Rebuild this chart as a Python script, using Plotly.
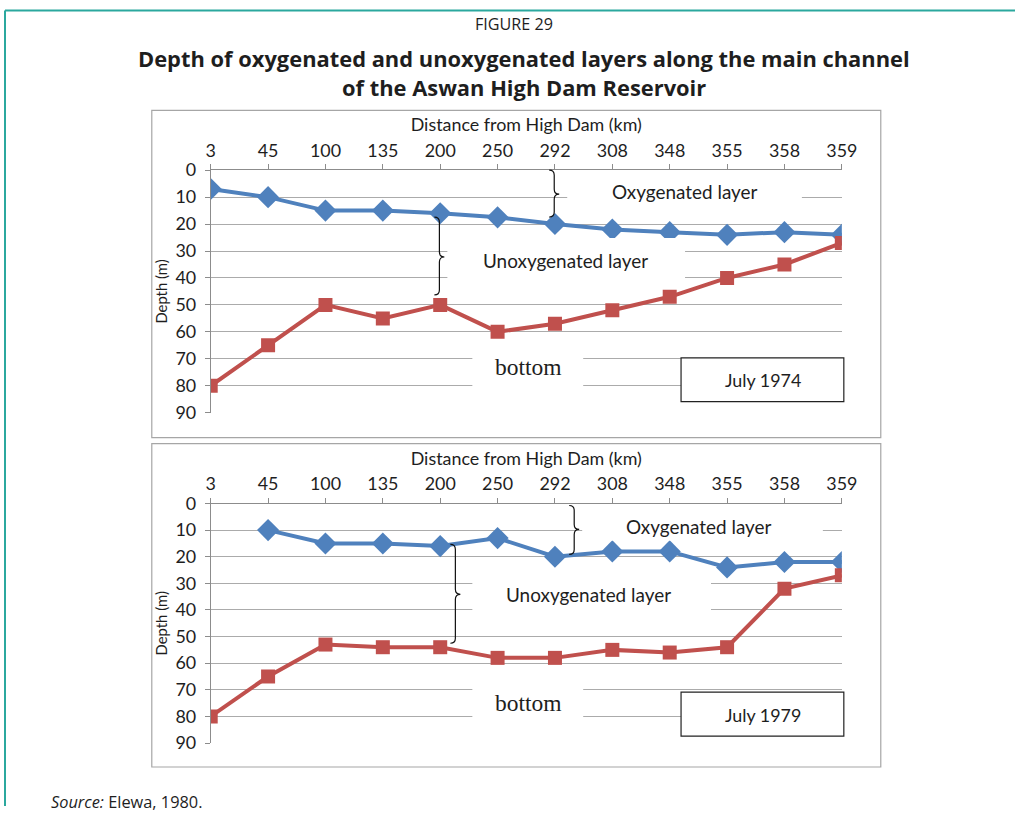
import plotly.graph_objects as go

# ---------------- data ----------------
distance_km = ["3", "45", "100", "135", "200", "250", "292", "308", "348", "355", "358", "359"]
oxygenated_1974 = [7, 10, 15, 15, 16, 17.5, 20, 22, 23, 24, 23, 24]
bottom_1974 = [80, 65, 50, 55, 50, 60, 57, 52, 47, 40, 35, 27]
oxygenated_1979 = [None, 10, 15, 15, 16, 13, 20, 18, 18, 24, 22, 22]
bottom_1979 = [80, 65, 53, 54, 54, 58, 58, 55, 56, 54, 32, 27]
depth_ticks = [0, 10, 20, 30, 40, 50, 60, 70, 80, 90]

# ---------------- layout helpers ----------------
W, H = 1031, 816
# the page is photographed slightly scaled/offset; compensate so that
# positions given in reference pixels land where intended
AX, BX = 0.981, 5.0
AY, BY = 0.975, 9.5
FS = 1 / 0.978


def px(x):
    return ((x - BX) / AX) / W


def py(y):
    return 1 - ((y - BY) / AY) / H


def fs(s):
    return s * FS


BLUE = "#4F81BD"
RED = "#C0504D"
GRID = "#ababab"
AXIS = "#8c8c8c"
TXT = "#1e1e1e"
FONT = "Lato"

fig = go.Figure()

panels = [
    dict(xa="x", ya="y", ox=oxygenated_1974, bot=bottom_1974, box=(108, 436)),
    dict(xa="x2", ya="y2", ox=oxygenated_1979, bot=bottom_1979, box=(442, 766)),
]

for p in panels:
    fig.add_trace(go.Scatter(
        x=distance_km, y=p["ox"], xaxis=p["xa"], yaxis=p["ya"], mode="lines+markers",
        line=dict(color=BLUE, width=4), marker=dict(symbol="diamond", size=17, color=BLUE),
        showlegend=False, connectgaps=False))
    fig.add_trace(go.Scatter(
        x=distance_km, y=p["bot"], xaxis=p["xa"], yaxis=p["ya"], mode="lines+markers",
        line=dict(color=RED, width=4), marker=dict(symbol="square", size=14, color=RED),
        showlegend=False, connectgaps=False))

xdom = [px(211), px(843)]
axis_common_x = dict(
    type="category", range=[0, len(distance_km) - 1], side="top", showline=True, linecolor=AXIS,
    linewidth=1, ticks="outside", ticklen=5, tickcolor=AXIS, showgrid=False, zeroline=False,
    tickfont=dict(family=FONT, size=fs(17.5), color=TXT), domain=xdom,
    title=dict(text="Distance from High Dam (km)", font=dict(family=FONT, size=fs(17.5), color=TXT), standoff=2),
)
axis_common_y = dict(
    range=[90, 0], tickvals=depth_ticks, showline=True, linecolor=AXIS, linewidth=1, ticks="outside",
    ticklen=5, tickcolor=AXIS, showgrid=True, gridcolor=GRID, gridwidth=1, zeroline=False,
    tickfont=dict(family=FONT, size=fs(17.5), color=TXT), ticklabelstandoff=5,
    title=dict(text="Depth (m)", font=dict(family=FONT, size=fs(14.5), color=TXT), standoff=4),
)

fig.update_layout(
    width=W, height=H, margin=dict(l=0, r=0, t=0, b=0), paper_bgcolor="white", plot_bgcolor="white",
    xaxis=dict(axis_common_x, anchor="y"),
    yaxis=dict(axis_common_y, anchor="x", domain=[py(411), py(168)]),
    xaxis2=dict(axis_common_x, anchor="y2"),
    yaxis2=dict(axis_common_y, anchor="x2", domain=[py(742), py(502)]),
)

shapes = []
annotations = []

# teal page frame (top and left)
shapes.append(dict(type="line", xref="paper", yref="paper", x0=px(5), x1=1, y0=py(8), y1=py(8),
                   line=dict(color="#2BA89E", width=2)))
shapes.append(dict(type="line", xref="paper", yref="paper", x0=px(5), x1=px(5), y0=py(8), y1=0,
                   line=dict(color="#2BA89E", width=2)))

# panel borders
for p in panels:
    shapes.append(dict(type="rect", xref="paper", yref="paper", x0=px(152), x1=px(882),
                       y0=py(p["box"][1]), y1=py(p["box"][0]), line=dict(color="#a6a6a6", width=1.2),
                       fillcolor="rgba(0,0,0,0)", layer="below"))


def white_box(x0, x1, y0, y1):
    shapes.append(dict(type="rect", xref="paper", yref="paper", x0=px(x0), x1=px(x1), y0=py(y1), y1=py(y0),
                       line=dict(width=0), fillcolor="white", layer="above"))


def brace(x0, y0, y1, ym, w=10, r=5):
    xm = x0 + w / 2
    pts = [
        f"M {px(x0)},{py(y0)}",
        f"Q {px(xm)},{py(y0)} {px(xm)},{py(y0 + r)}",
        f"L {px(xm)},{py(ym - r)}",
        f"Q {px(xm)},{py(ym)} {px(x0 + w)},{py(ym)}",
        f"Q {px(xm)},{py(ym)} {px(xm)},{py(ym + r)}",
        f"L {px(xm)},{py(y1 - r)}",
        f"Q {px(xm)},{py(y1)} {px(x0)},{py(y1)}",
    ]
    shapes.append(dict(type="path", xref="paper", yref="paper", path=" ".join(pts),
                       line=dict(color="#111111", width=1.2), layer="above"))


def label(x, y, text, size=18.5, family=FONT, color=TXT):
    annotations.append(dict(xref="paper", yref="paper", x=px(x), y=py(y), text=text, showarrow=False,
                            xanchor="center", yanchor="middle",
                            font=dict(family=family, size=fs(size), color=color)))


# ---- top panel (1974)
white_box(568, 803, 178, 206)
white_box(448, 686, 236, 286)
white_box(473, 584, 348, 392)
shapes.append(dict(type="rect", xref="paper", yref="paper", x0=px(682), x1=px(845), y0=py(400), y1=py(356),
                   line=dict(color="#222222", width=1.2), fillcolor="white", layer="above"))
brace(550, 168, 215, 192)
brace(435, 215, 293, 255)
label(686, 189, "Oxygenated layer")
label(566, 258, "Unoxygenated layer")
label(529, 365, "bottom", size=23, family="Liberation Serif")
label(764, 378, "July 1974", size=17.5)

# ---- bottom panel (1979)
white_box(583, 824, 516, 539)
white_box(473, 712, 572, 618)
white_box(473, 584, 680, 724)
shapes.append(dict(type="rect", xref="paper", yref="paper", x0=px(682), x1=px(845), y0=py(735), y1=py(691),
                   line=dict(color="#222222", width=1.2), fillcolor="white", layer="above"))
brace(570, 504, 553, 528)
brace(451, 543, 642, 593)
label(700, 525, "Oxygenated layer")
label(589, 593, "Unoxygenated layer")
label(529, 702, "bottom", size=23, family="Liberation Serif")
label(764, 714, "July 1979", size=17.5)

# ---- titles and source
label(515, 22, "FIGURE 29", size=15.8, family="Open Sans")
label(525, 56, "<b>Depth of oxygenated and unoxygenated layers along the main channel</b>", size=21.4,
      family="Open Sans")
label(525, 85, "<b>of the Aswan High Dam Reservoir</b>", size=21.4, family="Open Sans")
annotations.append(dict(xref="paper", yref="paper", x=px(49), y=py(801), xanchor="left", yanchor="middle",
                        text="<i>Source:</i> Elewa, 1980.", showarrow=False,
                        font=dict(family="Open Sans", size=fs(16), color=TXT)))

fig.update_layout(shapes=shapes, annotations=annotations)
fig.write_html("out.html", config={"displayModeBar": False},
               post_script="document.body.style.margin='0';document.body.style.overflow='hidden';")
